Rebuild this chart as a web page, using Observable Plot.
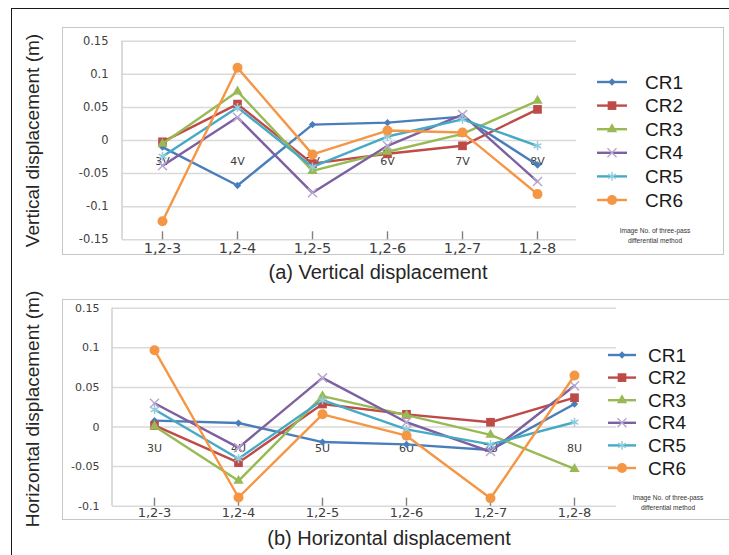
<!DOCTYPE html>
<html><head><meta charset="utf-8">
<script src="https://cdn.jsdelivr.net/npm/d3@7"></script>
<script src="https://cdn.jsdelivr.net/npm/@observablehq/plot@0.6"></script>
<style>
html,body{margin:0;padding:0;background:#fff;}
#root{position:relative;width:729px;height:555px;overflow:hidden;background:#fff;}
#root > *{position:absolute;}
</style></head><body><div id="root"></div>
<script>
// ---- data ----
const categories = ["1,2-3", "1,2-4", "1,2-5", "1,2-6", "1,2-7", "1,2-8"];
const verticalPointLabels = ["3V", "4V", "5V", "6V", "7V", "8V"];
const horizontalPointLabels = ["3U", "4U", "5U", "6U", "7U", "8U"];
const seriesNames = ["CR1", "CR2", "CR3", "CR4", "CR5", "CR6"];

const verticalCR1 = [-0.010, -0.068, 0.024, 0.027, 0.036, -0.037];
const verticalCR2 = [-0.002, 0.055, -0.035, -0.020, -0.008, 0.047];
const verticalCR3 = [-0.005, 0.074, -0.046, -0.017, 0.010, 0.060];
const verticalCR4 = [-0.038, 0.035, -0.079, -0.008, 0.039, -0.062];
const verticalCR5 = [-0.024, 0.050, -0.040, 0.006, 0.032, -0.008];
const verticalCR6 = [-0.122, 0.110, -0.021, 0.015, 0.012, -0.081];

const horizontalCR1 = [0.008, 0.005, -0.019, -0.022, -0.029, 0.029];
const horizontalCR2 = [0.002, -0.045, 0.029, 0.016, 0.006, 0.037];
const horizontalCR3 = [0.001, -0.068, 0.039, 0.015, -0.010, -0.053];
const horizontalCR4 = [0.030, -0.026, 0.062, 0.006, -0.031, 0.052];
const horizontalCR5 = [0.022, -0.040, 0.034, -0.003, -0.022, 0.006];
const horizontalCR6 = [0.097, -0.089, 0.016, -0.011, -0.090, 0.065];

const verticalTicks = [0.15, 0.1, 0.05, 0, -0.05, -0.1, -0.15];
const horizontalTicks = [0.15, 0.1, 0.05, 0, -0.05, -0.1];

const verticalTitle = "(a) Vertical displacement";
const horizontalTitle = "(b) Horizontal displacement";
const verticalYLabel = "Vertical displacement (m)";
const horizontalYLabel = "Horizontal displacement (m)";
const noteLines = ["Image No. of  three-pass", "differential method"];

// ---- styles ----
const lineColors = ["#4a7ebb", "#be4b48", "#98b954", "#7d60a0", "#46aac5", "#f59645"];
const markerStyle = [
  {symbol: "diamond2", r: 3.3, fill: "#4a7ebb"},
  {symbol: "square", r: 4.9, fill: "#be4b48"},
  {symbol: "triangle", r: 3.8, fill: "#98b954"},
  {symbol: "times", r: 4.2, stroke: "#b9a9d2"},
  {symbol: "asterisk", r: 4.2, stroke: "#93cddd"},
  {symbol: "circle", r: 5, fill: "#f59645"}
];
const d3Symbols = {diamond2: d3.symbolDiamond2, square: d3.symbolSquare, triangle: d3.symbolTriangle, times: d3.symbolTimes, asterisk: d3.symbolAsterisk, circle: d3.symbolCircle};

const root = document.getElementById("root");

function addBox(left, top, w, h, css) {
  const d = document.createElement("div");
  d.style.cssText = `left:${left}px;top:${top}px;width:${w}px;height:${h}px;box-sizing:border-box;${css}`;
  root.appendChild(d);
}
// outer figure border (top + left) and chart boxes
addBox(11, 8, 800, 700, "border-top:1.6px solid #1a1a1a;border-left:1.6px solid #1a1a1a;");
addBox(62, 27, 662, 228, "border:1.5px solid #c6c6c6;");
addBox(62, 299, 720, 221, "border:1.5px solid #c6c6c6;");

function makePanel(seriesValues, pointLabels, cfg) {
  const leftLine = (index, scales, values, dim) => {
    const l = document.createElementNS("http://www.w3.org/2000/svg", "line");
    l.setAttribute("x1", dim.marginLeft); l.setAttribute("x2", dim.marginLeft);
    l.setAttribute("y1", dim.marginTop); l.setAttribute("y2", dim.height - dim.marginBottom);
    l.setAttribute("stroke", "#cfcfcf"); l.setAttribute("stroke-width", 1.5);
    return l;
  };
  const labelRows = categories.map((c, i) => ({cat: c, label: pointLabels[i]}));
  const marks = [
    Plot.ruleY(cfg.ticks, {stroke: "#d9d9d9", strokeWidth: 1.5}),
    leftLine,
    Plot.axisY({ticks: cfg.ticks, tickSize: 0, tickPadding: cfg.yPad, tickFormat: d => String(d), fontSize: cfg.yFont, fill: "#404040", label: null}),
    Plot.axisX({tickSize: 8, dy: -8, tickFormat: () => "", stroke: "#808080", strokeWidth: 1.4, label: null}),
    Plot.axisX({tickSize: 0, tickPadding: cfg.xPad, fontSize: cfg.xFont, fill: "#404040", label: null}),
    Plot.text(labelRows, {x: "cat", y: () => 0, dy: cfg.labelDy, text: "label", fontSize: 11, fill: "#404040"})
  ];
  seriesNames.forEach((s, si) => {
    const rows = categories.map((c, ci) => ({cat: c, value: seriesValues[si][ci]}));
    marks.push(Plot.line(rows, {x: "cat", y: "value", stroke: lineColors[si], strokeWidth: 2.4}));
    const m = markerStyle[si];
    marks.push(Plot.dot(rows, {x: "cat", y: "value", symbol: m.symbol, r: m.r,
      fill: m.fill || "none", stroke: m.stroke || "none", strokeWidth: m.stroke ? 1.5 : 0}));
  });
  const svg = Plot.plot({
    width: 729, height: cfg.height,
    marginLeft: cfg.ml, marginRight: cfg.mr, marginTop: cfg.mt, marginBottom: cfg.mb,
    x: {type: "point", domain: categories, padding: 0.5},
    y: {domain: cfg.domain},
    style: {background: "transparent", fontFamily: "'DejaVu Sans', sans-serif", overflow: "visible"},
    marks
  });
  svg.style.left = "0px";
  svg.style.top = cfg.top + "px";
  root.appendChild(svg);
}

makePanel([verticalCR1, verticalCR2, verticalCR3, verticalCR4, verticalCR5, verticalCR6], verticalPointLabels,
  {ticks: verticalTicks, domain: [-0.15, 0.15], top: 0, height: 260, ml: 122, mr: 153, mt: 40.7, mb: 20.7,
   yPad: 14, yFont: 11.5, xPad: 3, xFont: 14.5, labelDy: 21});

makePanel([horizontalCR1, horizontalCR2, horizontalCR3, horizontalCR4, horizontalCR5, horizontalCR6], horizontalPointLabels,
  {ticks: horizontalTicks, domain: [-0.1, 0.15], top: 280, height: 250, ml: 112, mr: 113, mt: 27.7, mb: 24.3,
   yPad: 13, yFont: 11, xPad: 2, xFont: 13, labelDy: 21});

// ---- overlay: titles, axis titles, legends, notes ----
const ov = d3.select(root).append("svg").attr("width", 729).attr("height", 555)
  .style("left", "0px").style("top", "0px")
  .style("font-family", "'Liberation Sans', Arial, sans-serif");

function title(text, x, y, size) {
  ov.append("text").attr("x", x).attr("y", y).attr("text-anchor", "middle")
    .attr("dominant-baseline", "central").attr("font-size", size).attr("fill", "#262626").text(text);
}
function yTitle(text, x, y) {
  ov.append("text").attr("transform", `translate(${x},${y}) rotate(-90)`).attr("text-anchor", "middle")
    .attr("dominant-baseline", "central").attr("font-size", 19).attr("fill", "#262626").text(text);
}
title(verticalTitle, 378, 272, 20);
title(horizontalTitle, 389, 538, 20);
yTitle(verticalYLabel, 32, 140.5);
yTitle(horizontalYLabel, 32, 409);

function legend(x0, x1, textX, y0, step) {
  seriesNames.forEach((s, i) => {
    const y = y0 + i * step;
    const m = markerStyle[i];
    ov.append("line").attr("x1", x0).attr("x2", x1).attr("y1", y).attr("y2", y)
      .attr("stroke", lineColors[i]).attr("stroke-width", 2.4);
    ov.append("path").attr("transform", `translate(${(x0 + x1) / 2},${y})`)
      .attr("d", d3.symbol(d3Symbols[m.symbol], Math.PI * m.r * m.r)())
      .attr("fill", m.fill || "none").attr("stroke", m.stroke || "none").attr("stroke-width", m.stroke ? 1.5 : 0);
    ov.append("text").attr("x", textX).attr("y", y).attr("dominant-baseline", "central")
      .attr("font-size", 19).attr("fill", "#1a1a1a").text(s);
  });
}
legend(597, 627, 645, 82, 23.6);
legend(608, 636, 648, 355, 22.6);

function note(cx, y0) {
  noteLines.forEach((t, i) => {
    ov.append("text").attr("x", cx).attr("y", y0 + i * 9.5).attr("text-anchor", "middle")
      .attr("dominant-baseline", "central").attr("font-size", 6.6)
      .attr("font-family", "'Liberation Sans Narrow','Liberation Sans',Arial,sans-serif")
      .attr("fill", "#333").text(t);
  });
}
note(655, 230.5);
note(668, 497.5);
</script></body></html>
